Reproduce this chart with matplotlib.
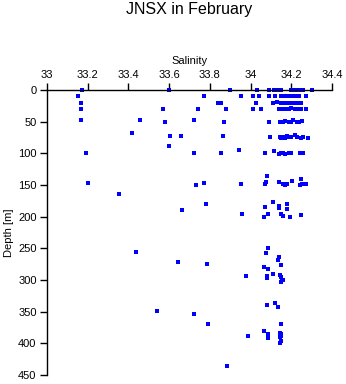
import matplotlib
matplotlib.use("Agg")
import matplotlib.pyplot as plt

plt.rcParams['font.family'] = ['Liberation Sans', 'DejaVu Sans']

salinity = [
    # depth ~0
    33.17, 33.60, 33.90, 34.03, 34.09, 34.115, 34.13, 34.15, 34.20, 34.21, 34.215, 34.22, 34.23, 34.24, 34.25, 34.26, 34.30,
    # depth ~10
    33.15, 33.77, 33.955, 34.01, 34.04, 34.09, 34.12, 34.15, 34.17, 34.19, 34.20, 34.21, 34.22, 34.23, 34.24, 34.27,
    # depth ~20
    33.167, 33.84, 33.855, 34.025, 34.11, 34.13, 34.15, 34.16, 34.18, 34.20, 34.21, 34.22, 34.24, 34.25,
    # depth ~30
    33.167, 33.57, 33.74, 33.88, 34.01, 34.05, 34.14, 34.15, 34.17, 34.19, 34.20, 34.22, 34.23, 34.25, 34.27,
    # depth ~50
    33.165, 33.457, 33.58, 33.72, 33.87, 34.09, 34.145, 34.16, 34.17, 34.19, 34.20, 34.21, 34.23, 34.24, 34.255,
    # depth ~75
    33.42, 33.605, 33.66, 33.866, 34.097, 34.145, 34.15, 34.16, 34.17, 34.18, 34.19, 34.20, 34.218, 34.23, 34.25, 34.26, 34.28,
    # depth ~90-100
    33.60, 33.19, 33.72, 33.855, 33.945, 34.07, 34.115, 34.14, 34.15, 34.16, 34.17, 34.19, 34.20, 34.245, 34.26,
    # depth ~135-165
    34.082, 34.205, 34.25, 33.20, 33.355, 33.733, 33.77, 33.955, 34.07, 34.075, 34.14, 34.16, 34.17, 34.18, 34.245, 34.255, 34.27,
    # depth ~175-200
    34.11, 33.78, 34.18, 34.07, 34.14, 34.14, 34.178, 33.665, 33.96, 34.087, 34.148, 34.25, 34.158, 34.066, 34.195,
    # depth ~250-305
    34.087, 33.437, 34.077, 34.14, 34.137, 33.645, 33.785, 34.148, 34.067, 34.087, 34.11, 34.08, 34.145, 33.977, 34.08, 34.15, 34.16, 34.15, 34.155,
    # depth ~335-400+
    34.121, 34.082, 34.135, 33.542, 33.72, 33.792, 34.148, 34.067, 34.145, 34.086, 34.15, 34.086, 33.989, 34.145, 34.15, 34.148, 34.145, 33.884,
]
depth = [
    0, 0, 0, 0, 0, 0, 0, 0, 0, 0, 0, 0, 0, 0, 0, 0, 0,
    10, 10, 10, 10, 10, 10, 10, 10, 10, 10, 10, 10, 10, 10, 10, 10,
    20, 20, 20, 20, 20, 19, 20, 20, 20, 20, 20, 21, 20, 20,
    30, 30, 30, 30, 30, 30, 30, 30, 30, 30, 29, 30, 30, 30, 30,
    47, 48, 50, 48, 50, 50, 50, 50, 49, 50, 50, 48, 50, 50, 49,
    68, 72, 73, 73, 74, 74, 75, 74, 75, 73, 74, 74, 71, 74, 75, 74, 75,
    89, 99, 99, 100, 94, 100, 97, 101, 100, 100, 101, 100, 99, 100, 100,
    136, 143, 140, 147, 164, 150, 147, 148, 148, 146, 146, 148, 150, 149, 150, 149, 148,
    177, 180, 180, 185, 183, 187, 188, 190, 196, 196, 196, 198, 199, 201, 200,
    249, 256, 258, 263, 268, 272, 274, 277, 280, 283, 291, 293, 292, 293, 297, 296, 300, 303, 300,
    337, 340, 343, 349, 354, 370, 370, 380, 383, 386, 386, 392, 389, 390, 388, 397, 400, 436,
]

x_ticks = [33, 33.2, 33.4, 33.6, 33.8, 34, 34.2, 34.4]
x_ticklabels = ["33", "33.2", "33.4", "33.6", "33.8", "34", "34.2", "34.4"]
y_ticks = [0, 50, 100, 150, 200, 250, 300, 350, 400, 450]

fig = plt.figure(figsize=(3.46, 3.84), dpi=100)
ax = fig.add_axes([0.1358, 0.0234, 0.8237, 0.7422])
ax.plot(salinity, depth, linestyle='none', marker='s', markersize=2.3,
        color='#0000ff', markeredgewidth=0, clip_on=False)

ax.set_xlim(33, 34.4)
ax.set_ylim(450, 0)
ax.xaxis.tick_top()
ax.xaxis.set_label_position('top')
ax.set_xticks(x_ticks)
ax.set_xticklabels(x_ticklabels)
ax.set_yticks(y_ticks)
ax.tick_params(axis='both', direction='out', length=5, width=1, labelsize=8, pad=2.5, color='black')
for side in ['right', 'bottom']:
    ax.spines[side].set_visible(False)
for side in ['top', 'left']:
    ax.spines[side].set_linewidth(1)
ax.set_xlabel('Salinity', fontsize=8, labelpad=4)
ax.set_ylabel('Depth [m]', fontsize=8, labelpad=3)
fig.text(0.548, 0.974, 'JNSX in February', ha='center', va='center', fontsize=11.5)

fig.savefig('out.png', dpi=100)
